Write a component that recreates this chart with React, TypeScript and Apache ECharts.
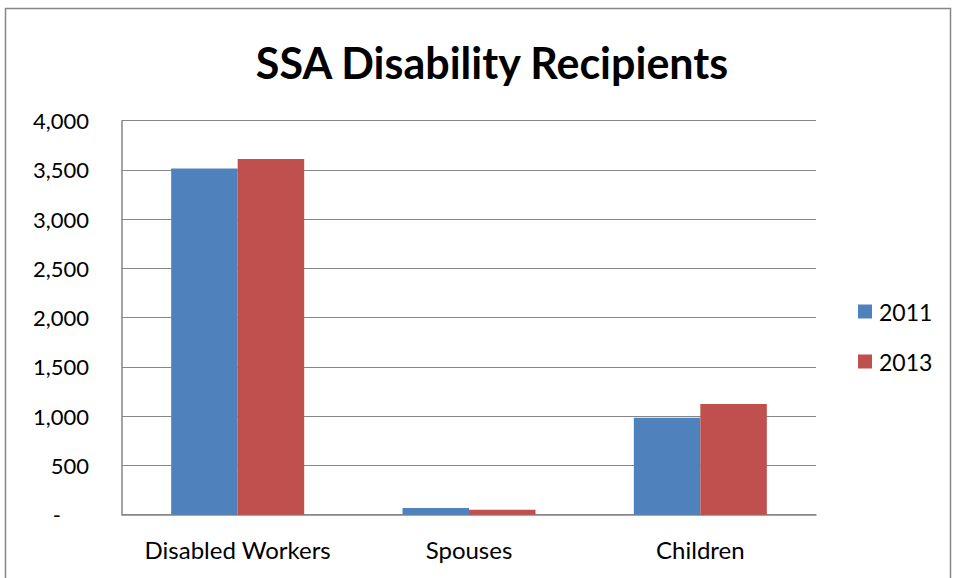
import React, { useEffect, useRef } from "react";
import * as echarts from "echarts";

const categories = ["Disabled Workers", "Spouses", "Children"];
const series2011 = [3515, 68, 985];
const series2013 = [3612, 51, 1124];
const seriesNames = ["2011", "2013"];
const yTicks = { min: 0, max: 4000, interval: 500 };

const FONT = "Lato, 'Noto Sans', sans-serif";

export default function App() {
  const ref = useRef<HTMLDivElement>(null);
  useEffect(() => {
    if (!ref.current) return;
    const chart = echarts.init(ref.current, null, { renderer: "svg" });
    chart.setOption({
      animation: false,
      backgroundColor: "#ffffff",
      textStyle: { fontFamily: FONT },
      title: {
        text: "SSA Disability Recipients",
        left: 487,
        top: 36,
        textAlign: "center",
        textStyle: { fontFamily: FONT, fontSize: 43, fontWeight: "bold", color: "#000" },
      },
      graphic: [
        {
          type: "rect",
          shape: { x: 5.5, y: 8.5, width: 945, height: 620 },
          style: { fill: "none", stroke: "#868686", lineWidth: 1.5 },
          silent: true,
        },
      ],
      legend: {
        orient: "vertical",
        left: 858,
        top: 300,
        icon: "rect",
        itemWidth: 14,
        itemHeight: 14,
        itemGap: 27,
        padding: 0,
        data: seriesNames,
        textStyle: { fontFamily: FONT, fontSize: 23, color: "#000", padding: [0, 0, 0, 2] },
      },
      grid: { left: 122, right: 140, top: 120.7, bottom: 63.3, containLabel: false },
      xAxis: {
        type: "category",
        data: categories,
        axisLine: { lineStyle: { color: "#868686", width: 1.5 } },
        axisTick: { show: false },
        axisLabel: { color: "#000", fontSize: 24, fontFamily: FONT, margin: 23, interval: 0 },
      },
      yAxis: {
        type: "value",
        min: yTicks.min,
        max: yTicks.max,
        interval: yTicks.interval,
        axisLine: { show: true, lineStyle: { color: "#868686", width: 1.5 } },
        axisTick: { show: false },
        splitLine: { lineStyle: { color: "#868686", width: 1.2 } },
        axisLabel: {
          color: "#000",
          fontSize: 22,
          fontFamily: FONT,
          margin: 33,
          formatter: (v: number) => (v === 0 ? "-     " : v.toLocaleString("en-US")),
        },
      },
      series: [
        {
          name: seriesNames[0],
          type: "bar",
          data: series2011,
          barGap: "0%",
          barCategoryGap: "42.5%",
          itemStyle: { color: "#4F81BD" },
        },
        {
          name: seriesNames[1],
          type: "bar",
          data: series2013,
          barGap: "0%",
          barCategoryGap: "42.5%",
          itemStyle: { color: "#C0504D" },
        },
      ],
    });
    return () => chart.dispose();
  }, []);
  return (
    <div
      ref={ref}
      style={{ position: "fixed", left: 0, top: 0, width: 956, height: 578 }}
    />
  );
}
